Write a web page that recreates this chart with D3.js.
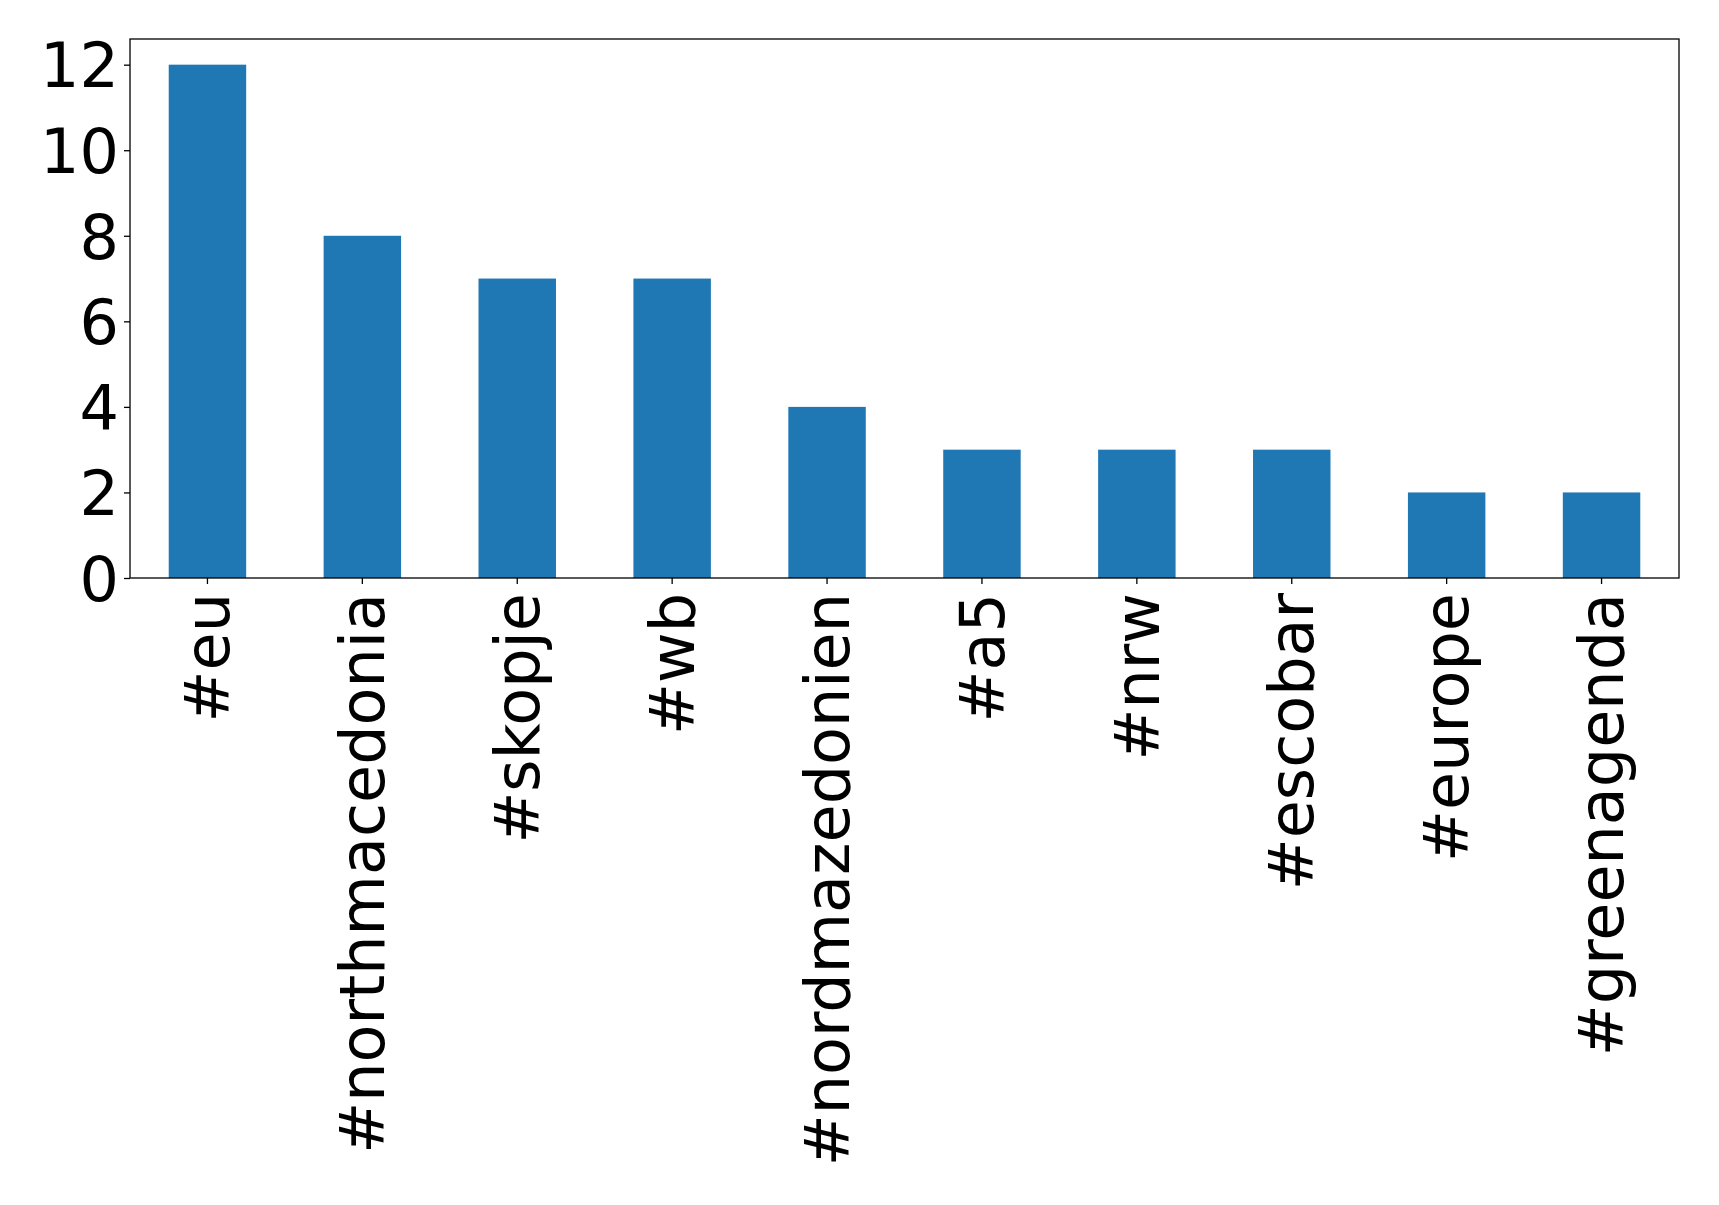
<!DOCTYPE html>
<html>
<head>
<meta charset="utf-8">
<script src="https://cdn.jsdelivr.net/npm/d3@7"></script>
<style>
  html, body { margin: 0; padding: 0; background: #fff; }
  svg { display: block; }
  text { font-family: "DejaVu Sans", sans-serif; fill: #000; }
</style>
</head>
<body>
<script>
const categories = ["#eu", "#northmacedonia", "#skopje", "#wb", "#nordmazedonien", "#a5", "#nrw", "#escobar", "#europe", "#greenagenda"];
const counts = [12, 8, 7, 7, 4, 3, 3, 3, 2, 2];
const yTicks = [0, 2, 4, 6, 8, 10, 12];

const W = 1719, H = 1205;
const margin = { left: 130, right: 40, top: 39, bottom: 627 };
const fontSize = 62;

const svg = d3.select("body").append("svg").attr("width", W).attr("height", H);

const x = d3.scaleBand()
  .domain(categories)
  .range([margin.left, W - margin.right])
  .paddingInner(0.5)
  .paddingOuter(0.25);

const y = d3.scaleLinear()
  .domain([0, 12.6])
  .range([H - margin.bottom, margin.top]);

const data = categories.map((c, i) => ({ c, v: counts[i] }));

svg.append("g").selectAll("rect")
  .data(data)
  .join("rect")
  .attr("x", d => x(d.c))
  .attr("y", d => y(d.v))
  .attr("width", x.bandwidth())
  .attr("height", d => y(0) - y(d.v))
  .attr("fill", "#1f77b4");

// Y axis
const yAxis = d3.axisLeft(y).tickValues(yTicks).tickSize(6).tickPadding(5).tickFormat(d3.format("d"));
const gy = svg.append("g").attr("transform", `translate(${margin.left},0)`).call(yAxis);
gy.select(".domain").remove();
gy.selectAll(".tick line").attr("stroke", "#000").attr("stroke-width", 1.3);
gy.selectAll(".tick text").attr("font-size", fontSize).attr("font-family", "DejaVu Sans").attr("dy", "0.36em");

// X axis
const xAxis = d3.axisBottom(x).tickSize(6).tickPadding(8);
const gx = svg.append("g").attr("transform", `translate(0,${H - margin.bottom})`).call(xAxis);
gx.select(".domain").remove();
gx.selectAll(".tick line").attr("stroke", "#000").attr("stroke-width", 1.3);
gx.selectAll(".tick text")
  .attr("font-size", fontSize)
  .attr("font-family", "DejaVu Sans")
  .attr("text-anchor", "end")
  .attr("transform", "rotate(-90)")
  .attr("x", -15)
  .attr("y", 0)
  .attr("dy", "0.35em");

// Frame
svg.append("rect")
  .attr("x", margin.left)
  .attr("y", margin.top)
  .attr("width", W - margin.left - margin.right)
  .attr("height", H - margin.top - margin.bottom)
  .attr("fill", "none")
  .attr("stroke", "#000")
  .attr("stroke-width", 1.3);
</script>
</body>
</html>
